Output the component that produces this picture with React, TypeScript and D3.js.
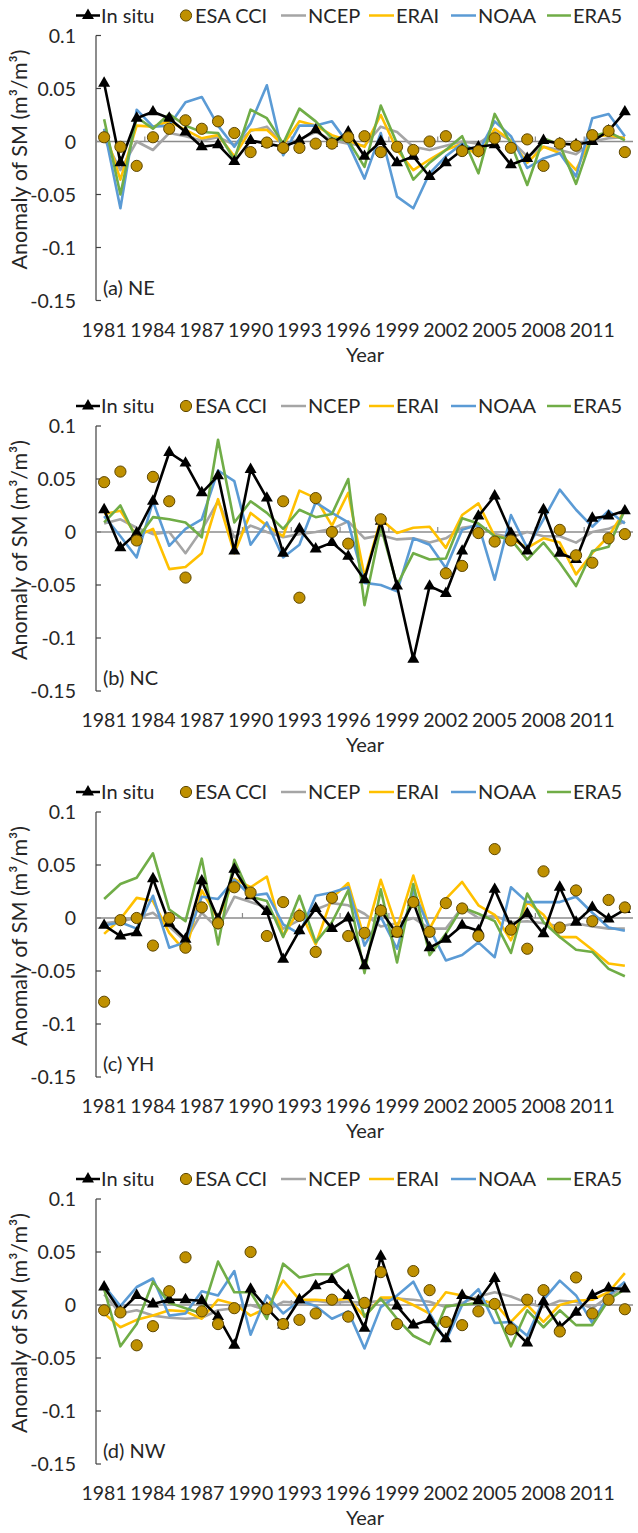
import React from 'react';
import * as d3 from 'd3';

const years = [1981,1982,1983,1984,1985,1986,1987,1988,1989,1990,1991,1992,1993,1994,1995,1996,1997,1998,1999,2000,2001,2002,2003,2004,2005,2006,2007,2008,2009,2010,2011,2012,2013];
const xTickYears = [1981,1984,1987,1990,1993,1996,1999,2002,2005,2008,2011];
const yTicks = [0.1, 0.05, 0, -0.05, -0.1, -0.15];
const yTickLabels = ['0.1', '0.05', '0', '-0.05', '-0.1', '-0.15'];
const panelLabels = ['(a) NE', '(b) NC', '(c) YH', '(d) NW'];
const seriesNames = ['In situ', 'ESA CCI', 'NCEP', 'ERAI', 'NOAA', 'ERA5'];

// (a) NE
const neInSitu = [0.055,-0.02,0.022,0.028,0.022,0.009,-0.005,-0.003,-0.019,0.001,-0.002,-0.005,0.001,0.011,-0.002,0.009,-0.014,0.0,-0.02,-0.014,-0.033,-0.02,-0.008,-0.005,-0.003,-0.022,-0.016,0.001,-0.002,-0.003,0.0,0.01,0.028];
const neEsa = [0.004,-0.005,-0.023,0.004,0.012,0.02,0.012,0.019,0.008,-0.01,-0.001,-0.006,-0.006,-0.002,-0.002,0.004,0.005,-0.01,-0.005,-0.008,0.0,0.005,-0.009,-0.009,0.003,-0.006,0.002,-0.023,-0.002,-0.004,0.006,0.01,-0.01];
const neNcep = [0.003,-0.027,0.0,-0.008,0.008,0.005,0.001,0.004,-0.003,0.01,0.014,-0.003,0.002,0.009,0.001,-0.002,-0.004,0.014,0.009,-0.005,-0.008,-0.004,0.0,-0.002,0.009,0.001,-0.014,-0.005,-0.008,-0.012,0.0,0.003,0.004];
const neErai = [0.012,-0.036,0.015,0.014,0.019,0.011,0.003,0.006,-0.014,0.011,0.011,-0.003,0.019,0.015,0.006,0.001,-0.005,0.025,-0.008,-0.027,-0.017,-0.008,-0.002,-0.014,0.012,0.001,-0.02,-0.005,-0.011,-0.027,0.005,0.006,0.003];
const neNoaa = [0.012,-0.063,0.03,0.014,0.015,0.037,0.042,0.015,-0.005,0.017,0.053,-0.013,0.015,0.015,0.019,-0.002,-0.035,0.008,-0.052,-0.063,-0.03,-0.014,-0.002,-0.01,0.019,0.005,-0.025,-0.016,-0.011,-0.033,0.022,0.026,0.005];
const neEra5 = [0.021,-0.05,0.023,0.012,0.026,0.015,0.009,0.008,-0.017,0.03,0.022,-0.002,0.031,0.019,0.003,0.001,-0.024,0.034,-0.002,-0.036,-0.02,-0.008,0.005,-0.03,0.026,-0.002,-0.041,0.003,-0.003,-0.04,0.005,0.009,0.001];

// (b) NC
const ncInSitu = [0.021,-0.015,-0.001,0.029,0.075,0.065,0.037,0.053,-0.018,0.059,0.032,-0.02,0.003,-0.016,-0.01,-0.023,-0.045,0.01,-0.051,-0.12,-0.051,-0.058,-0.018,0.015,0.034,-0.001,-0.018,0.021,-0.02,-0.026,0.013,0.015,0.02];
const ncEsa = [0.047,0.057,-0.008,0.052,0.029,-0.043,null,null,null,null,null,0.029,-0.062,0.032,0.0,-0.011,null,0.012,null,null,null,-0.039,-0.032,-0.001,-0.009,-0.008,null,null,0.002,-0.022,-0.029,-0.006,-0.002];
const ncNcep = [0.008,0.012,0.004,-0.002,0.0,-0.02,0.002,0.029,-0.005,0.006,0.0,-0.005,-0.002,0.0,0.003,0.01,-0.006,-0.003,-0.007,-0.006,-0.01,-0.006,0.004,0.006,-0.002,-0.005,0.0,-0.004,-0.004,-0.01,0.0,0.003,0.01];
const ncErai = [0.017,0.02,-0.004,0.003,-0.035,-0.033,-0.02,0.031,-0.02,0.018,0.006,-0.004,0.039,0.032,0.006,0.037,-0.042,0.012,-0.001,0.004,0.005,-0.015,0.016,0.027,-0.004,-0.006,-0.015,-0.006,-0.01,-0.04,-0.02,-0.004,0.02];
const ncNoaa = [0.015,-0.004,-0.024,0.029,-0.013,0.003,0.012,0.058,0.048,-0.012,0.009,-0.024,-0.012,0.028,0.018,0.009,-0.048,-0.05,-0.056,-0.006,-0.012,-0.034,0.002,0.007,-0.045,0.016,-0.015,0.012,0.04,0.021,0.005,0.02,0.008];
const ncEra5 = [0.009,0.025,-0.007,0.014,0.012,0.009,-0.005,0.087,0.009,0.029,0.018,0.003,0.021,0.014,0.017,0.05,-0.069,0.005,-0.05,-0.02,-0.026,-0.025,0.013,0.008,-0.004,-0.007,-0.026,-0.01,-0.029,-0.051,-0.018,-0.014,0.021];

// (c) YH
const yhInSitu = [-0.007,-0.017,-0.014,0.037,-0.005,-0.02,0.035,-0.001,0.046,0.021,0.006,-0.039,-0.012,0.009,-0.01,0.0,-0.045,0.007,-0.015,0.015,-0.028,-0.02,-0.007,-0.012,0.027,-0.008,0.004,-0.015,0.029,-0.004,0.01,-0.001,0.008];
const yhEsa = [-0.079,-0.002,0.0,-0.026,0.0,-0.028,0.01,-0.005,0.029,0.024,-0.017,0.015,0.002,-0.032,0.019,-0.017,-0.014,0.007,-0.013,0.015,-0.013,0.014,0.009,-0.017,0.065,-0.011,-0.029,0.044,-0.009,0.026,-0.003,0.017,0.01];
const yhNcep = [-0.005,-0.003,0.0,0.005,-0.008,-0.022,0.005,-0.01,0.02,0.015,0.01,-0.01,-0.002,0.008,0.014,0.012,0.004,-0.008,-0.005,0.0,-0.01,-0.01,0.01,0.0,0.002,-0.004,-0.003,-0.005,-0.008,-0.005,-0.008,-0.01,-0.01];
const yhErai = [-0.015,-0.001,0.019,0.016,-0.014,-0.032,0.026,-0.001,0.037,0.029,0.039,-0.017,0.008,-0.025,0.019,0.033,-0.02,0.036,-0.01,0.04,-0.01,0.018,0.034,0.012,0.003,-0.021,0.015,0.003,-0.018,-0.018,-0.03,-0.043,-0.045];
const yhNoaa = [-0.007,-0.004,-0.01,0.021,-0.028,-0.023,0.02,0.018,0.036,0.021,0.023,-0.006,-0.015,0.021,0.024,0.029,-0.026,0.001,-0.029,0.026,-0.01,-0.04,-0.035,-0.023,-0.037,0.029,0.015,0.015,0.015,0.02,0.005,-0.009,-0.012];
const yhEra5 = [0.018,0.032,0.038,0.061,0.008,-0.003,0.056,-0.025,0.055,0.02,0.016,-0.018,0.021,-0.023,-0.004,0.026,-0.052,0.027,-0.042,0.032,-0.035,-0.015,0.01,0.004,-0.003,-0.033,0.023,-0.004,-0.018,-0.03,-0.032,-0.048,-0.055];

// (d) NW
const nwInSitu = [0.017,-0.006,0.009,0.001,0.005,0.005,0.004,-0.011,-0.038,0.015,-0.003,-0.019,0.005,0.018,0.024,0.009,-0.022,0.046,-0.001,-0.019,-0.014,-0.032,0.009,0.004,0.025,-0.021,-0.036,0.003,-0.021,-0.007,0.009,0.016,0.015];
const nwEsa = [-0.005,-0.007,-0.038,-0.02,0.013,0.045,-0.006,-0.018,-0.003,0.05,-0.004,-0.018,-0.014,-0.008,0.005,-0.011,0.002,0.031,-0.018,0.032,0.014,-0.016,-0.019,-0.006,0.001,-0.023,0.005,0.014,-0.025,0.026,-0.008,0.005,-0.004];
const nwNcep = [0.01,-0.008,-0.005,-0.01,-0.012,-0.013,-0.012,-0.005,-0.003,0.0,-0.005,0.003,0.002,0.004,0.002,0.003,0.002,0.004,0.006,0.005,0.003,-0.002,0.002,0.008,0.012,0.008,0.002,-0.002,0.004,0.003,-0.003,0.008,0.018];
const nwErai = [-0.008,-0.021,-0.014,-0.01,-0.005,-0.006,-0.013,0.005,0.001,-0.01,-0.003,0.023,0.005,0.005,0.004,0.006,-0.011,0.007,0.007,0.0,-0.008,0.012,0.009,0.004,0.002,-0.016,0.0,-0.016,0.0,0.004,0.005,0.012,0.03];
const nwNoaa = [0.018,-0.001,0.017,0.025,-0.01,-0.008,0.013,0.009,0.032,-0.028,0.009,-0.008,0.004,-0.001,-0.013,-0.006,-0.041,-0.002,0.009,0.022,-0.008,-0.034,0.0,0.015,-0.017,-0.016,-0.029,0.005,0.023,0.009,-0.017,0.009,0.022];
const nwEra5 = [0.015,-0.039,-0.018,0.022,0.002,-0.003,-0.008,0.041,0.012,0.012,-0.013,0.039,0.026,0.029,0.029,0.038,-0.011,0.006,-0.013,-0.029,-0.037,-0.001,0.0,0.002,-0.003,-0.039,-0.005,-0.021,-0.005,-0.019,-0.019,0.005,0.015];

const panels = [
  { inSitu: neInSitu, esa: neEsa, ncep: neNcep, erai: neErai, noaa: neNoaa, era5: neEra5 },
  { inSitu: ncInSitu, esa: ncEsa, ncep: ncNcep, erai: ncErai, noaa: ncNoaa, era5: ncEra5 },
  { inSitu: yhInSitu, esa: yhEsa, ncep: yhNcep, erai: yhErai, noaa: yhNoaa, era5: yhEra5 },
  { inSitu: nwInSitu, esa: nwEsa, ncep: nwNcep, erai: nwErai, noaa: nwNoaa, era5: nwEra5 },
];

const W = 638;
const H = 1533;
const FONT = "Lato, 'Open Sans', sans-serif";
const TEXT = '#262626';
const C_NCEP = '#A5A5A5';
const C_ERAI = '#FFC000';
const C_NOAA = '#5B9BD5';
const C_ERA5 = '#70AD47';
const C_ESA = '#BF9000';
const C_ESA_STROKE = '#5E4700';
const ZEROS = [141.5, 532, 918, 1305];

const x = d3.scaleBand<number>().domain(years).range([96, 633]).padding(0);
const cx = (yr: number) => (x(yr) as number) + x.bandwidth() / 2;

const triPath = d3.symbol().type(d3.symbolTriangle).size(62)() as string;

function Panel({ idx }: { idx: number }) {
  const p = panels[idx];
  const zero = ZEROS[idx];
  const y = d3.scaleLinear().domain([-0.15, 0.1]).range([zero + 159, zero - 106]);
  const line = d3.line<number | null>()
    .defined((d) => d != null)
    .x((_, i) => cx(years[i]))
    .y((d) => y(d as number));
  const legY = zero - 126;
  const lineSeries = [
    { data: p.ncep, color: C_NCEP },
    { data: p.erai, color: C_ERAI },
    { data: p.noaa, color: C_NOAA },
    { data: p.era5, color: C_ERA5 },
  ];
  const legendLines = [
    { name: seriesNames[2], color: C_NCEP, x0: 281, x1: 306, tx: 308 },
    { name: seriesNames[3], color: C_ERAI, x0: 369, x1: 394, tx: 396 },
    { name: seriesNames[4], color: C_NOAA, x0: 451, x1: 476, tx: 478 },
    { name: seriesNames[5], color: C_ERA5, x0: 547, x1: 571, tx: 573 },
  ];
  return (
    <g>
      {/* legend */}
      <g fontFamily={FONT} fontSize={20} fill={TEXT}>
        <line x1={76} x2={100} y1={legY} y2={legY} stroke="#000" strokeWidth={2.5} />
        <path d={triPath} transform={`translate(88,${legY})`} fill="#000" />
        <text x={101} y={legY + 7}>{seriesNames[0]}</text>
        <circle cx={186} cy={legY} r={5.6} fill={C_ESA} stroke={C_ESA_STROKE} strokeWidth={1} />
        <text x={195} y={legY + 7}>{seriesNames[1]}</text>
        {legendLines.map((l) => (
          <g key={l.name}>
            <line x1={l.x0} x2={l.x1} y1={legY} y2={legY} stroke={l.color} strokeWidth={2.5} />
            <text x={l.tx} y={legY + 7}>{l.name}</text>
          </g>
        ))}
      </g>
      {/* y axis */}
      <line x1={96} x2={96} y1={y(0.1)} y2={y(-0.15)} stroke="#404040" strokeWidth={1.2} />
      {yTicks.map((t, i) => (
        <g key={t}>
          <line x1={96} x2={101} y1={y(t)} y2={y(t)} stroke="#404040" strokeWidth={1.2} />
          <text x={76} y={y(t) + 7} textAnchor="end" fontFamily={FONT} fontSize={19.5} fill={TEXT}>{yTickLabels[i]}</text>
        </g>
      ))}
      {/* zero (category) axis */}
      <line x1={96} x2={633} y1={y(0)} y2={y(0)} stroke="#8C8C8C" strokeWidth={1.6} />
      {d3.range(3, years.length, 3).map((k) => (
        <line key={k} x1={(x(years[k]) as number)} x2={(x(years[k]) as number)} y1={y(0) - 5} y2={y(0)} stroke="#8C8C8C" strokeWidth={1.2} />
      ))}
      {/* series lines */}
      {lineSeries.map((s, i) => (
        <path key={i} d={line(s.data) as string} fill="none" stroke={s.color} strokeWidth={2.6} strokeLinejoin="round" />
      ))}
      <path d={line(p.inSitu) as string} fill="none" stroke="#000" strokeWidth={2.6} strokeLinejoin="round" />
      {p.inSitu.map((v, i) => (
        <path key={i} d={triPath} transform={`translate(${cx(years[i])},${y(v)})`} fill="#000" />
      ))}
      {p.esa.map((v, i) => v == null ? null : (
        <circle key={i} cx={cx(years[i])} cy={y(v)} r={5.6} fill={C_ESA} stroke={C_ESA_STROKE} strokeWidth={1} />
      ))}
      {/* x tick labels */}
      {xTickYears.map((yr) => (
        <text key={yr} x={cx(yr)} y={zero + 195} textAnchor="middle" fontFamily={FONT} fontSize={19.5} fill={TEXT}>{String(yr)}</text>
      ))}
      <text x={365} y={zero + 220} textAnchor="middle" fontFamily={FONT} fontSize={20} fill={TEXT}>Year</text>
      {/* panel label */}
      <text x={103} y={zero + 153} fontFamily={FONT} fontSize={20} fill={TEXT}>{panelLabels[idx]}</text>
      {/* y title */}
      <text transform={`translate(27,${zero + 18}) rotate(-90)`} textAnchor="middle" fontFamily={FONT} fontSize={21.5} fill={TEXT}>Anomaly of SM (m³/m³)</text>
    </g>
  );
}

export default function App() {
  return (
    <svg width={W} height={H} viewBox={`0 0 ${W} ${H}`} style={{ position: 'absolute', left: 0, top: 0, background: '#fff' }}>
      <rect x={0} y={0} width={W} height={H} fill="#fff" />
      {panels.map((_, i) => <Panel key={i} idx={i} />)}
    </svg>
  );
}
